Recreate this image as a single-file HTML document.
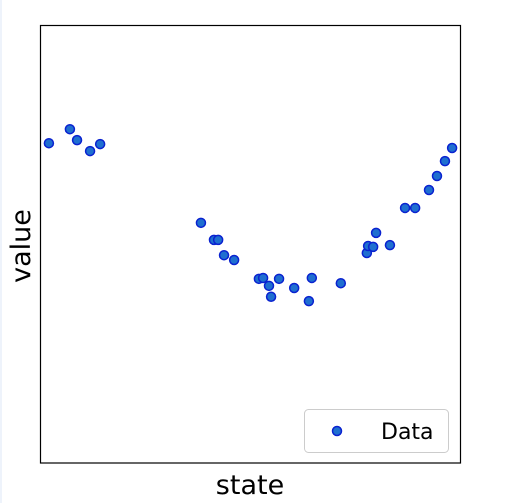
<!DOCTYPE html>
<html><head><meta charset="utf-8"><style>
html,body{margin:0;padding:0;background:#fff;}
svg{display:block;font-family:"DejaVu Sans","Liberation Sans",sans-serif;}
</style></head><body>
<svg id="chart" width="513" height="503" viewBox="0 0 513 503">
<rect x="0" y="0" width="2" height="503" fill="#eef3fb"/>
<rect x="40.5" y="25.5" width="420" height="437.5" fill="#fff" stroke="#000" stroke-width="1.2"/>
<g id="points"></g>
<text x="250" y="494" font-size="27" text-anchor="middle">state</text>
<text x="0" y="0" font-size="27" text-anchor="middle" transform="translate(30,246) rotate(-90)">value</text>
<g>
<rect x="304.5" y="409.5" width="144" height="43" rx="4" fill="#fff" stroke="#ccc" stroke-width="1"/>
<circle cx="337" cy="431" r="4.5" fill="#1f6fd0" stroke="#0a22d0" stroke-width="1.5"/>
<text x="381" y="439" font-size="22">Data</text>
</g>
</svg>
<script>
const xValues = [2.0,7.0,8.7,11.8,14.2,38.2,41.3,42.3,43.7,46.1,52.0,53.0,54.4,54.9,56.8,60.4,63.9,64.6,71.5,77.7,78.0,79.2,79.9,83.2,86.8,89.2,92.5,94.4,96.3,98.0];
const yValues = [73.1,76.3,73.8,71.3,72.9,54.9,51.0,51.0,47.5,46.4,42.1,42.3,40.5,38.0,42.1,40.0,37.0,42.3,41.1,48.0,49.6,49.4,52.6,49.8,58.3,58.3,62.4,65.6,69.0,72.0];
const xDomain = [0,100];
const yDomain = [0,100];
function xScale(v){return 40.5 + (v - xDomain[0])/(xDomain[1]-xDomain[0])*420;}
function yScale(v){return 463 - (v - yDomain[0])/(yDomain[1]-yDomain[0])*437.5;}
const g = document.getElementById('points');
const NS = 'http://www.w3.org/2000/svg';
for (let i = 0; i < xValues.length; i++) {
  const c = document.createElementNS(NS, 'circle');
  c.setAttribute('cx', xScale(xValues[i]));
  c.setAttribute('cy', yScale(yValues[i]));
  c.setAttribute('r', 4.5);
  c.setAttribute('fill', '#1f6fd0');
  c.setAttribute('stroke', '#0a22d0');
  c.setAttribute('stroke-width', 1.5);
  
  
  g.appendChild(c);
}
</script>
</body></html>
